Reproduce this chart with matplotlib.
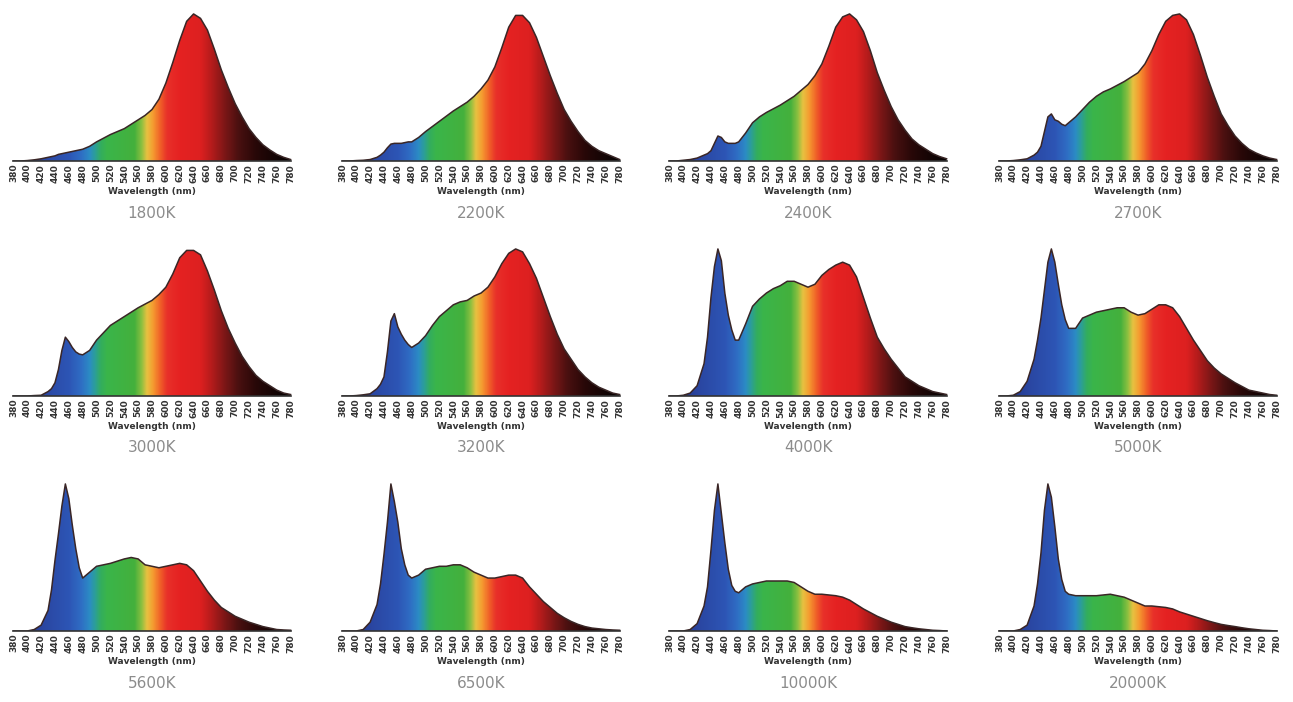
import matplotlib
matplotlib.use('Agg')
import matplotlib.pyplot as plt
import numpy as np
from matplotlib.colors import LinearSegmentedColormap
from matplotlib.patches import Polygon

# Data

wavelengths = [380, 390, 400, 410, 420, 430, 435, 440, 445, 450, 455, 460, 465, 470, 475, 480,
               490, 500, 510, 520, 530, 540, 550, 560, 570, 580, 590, 600, 610, 620, 630, 640,
               650, 660, 670, 680, 690, 700, 710, 720, 730, 740, 750, 760, 770, 780]

cct_names = ['1800K', '2200K', '2400K', '2700K',
             '3000K', '3200K', '4000K', '5000K',
             '5600K', '6500K', '10000K', '20000K']

spd_1800 = [0, 0, 0.003, 0.008, 0.015, 0.025, 0.03, 0.035, 0.045, 0.05, 0.055, 0.06, 0.065, 0.07, 0.075, 0.08,
            0.1, 0.13, 0.155, 0.18, 0.2, 0.22, 0.25, 0.28, 0.31, 0.35, 0.42, 0.53, 0.67, 0.82, 0.95, 1.0,
            0.97, 0.89, 0.76, 0.62, 0.5, 0.39, 0.3, 0.22, 0.16, 0.11, 0.075, 0.045, 0.025, 0.01]
spd_2200 = [0, 0, 0.003, 0.005, 0.01, 0.025, 0.04, 0.06, 0.09, 0.115, 0.12, 0.12, 0.12, 0.125, 0.13, 0.13,
            0.16, 0.2, 0.235, 0.27, 0.305, 0.34, 0.37, 0.4, 0.44, 0.49, 0.55, 0.64, 0.77, 0.91, 0.99, 0.99,
            0.94, 0.84, 0.71, 0.58, 0.46, 0.35, 0.27, 0.2, 0.14, 0.1, 0.07, 0.05, 0.03, 0.01]
spd_2400 = [0, 0, 0.005, 0.01, 0.02, 0.04, 0.05, 0.07, 0.12, 0.17, 0.16, 0.13, 0.12, 0.12, 0.12, 0.13,
            0.19, 0.26, 0.3, 0.33, 0.355, 0.38, 0.41, 0.44, 0.48, 0.52, 0.58, 0.66, 0.78, 0.91, 0.98, 1.0,
            0.96, 0.88, 0.75, 0.6, 0.48, 0.37, 0.28, 0.21, 0.15, 0.11, 0.08, 0.05, 0.03, 0.015]
spd_2700 = [0, 0, 0.003, 0.008, 0.015, 0.04, 0.06, 0.1, 0.2, 0.3, 0.32, 0.28, 0.27, 0.25, 0.24, 0.26,
            0.3, 0.35, 0.4, 0.44, 0.47, 0.49, 0.515, 0.54, 0.57, 0.6, 0.66, 0.75, 0.86, 0.95, 0.99, 1.0,
            0.96, 0.86, 0.72, 0.57, 0.44, 0.32, 0.24, 0.17, 0.12, 0.08, 0.055, 0.035, 0.02, 0.01]
spd_3000 = [0, 0, 0, 0.003, 0.005, 0.03, 0.05, 0.09, 0.18, 0.31, 0.4, 0.37, 0.33, 0.3, 0.285, 0.28,
            0.31, 0.38, 0.43, 0.48, 0.51, 0.54, 0.57, 0.6, 0.625, 0.65, 0.69, 0.74, 0.83, 0.94, 0.99, 0.99,
            0.96, 0.85, 0.72, 0.58, 0.46, 0.36, 0.27, 0.2, 0.14, 0.1, 0.07, 0.04, 0.02, 0.01]
spd_3200 = [0, 0, 0.003, 0.008, 0.015, 0.05, 0.08, 0.13, 0.3, 0.51, 0.56, 0.47, 0.42, 0.38, 0.35, 0.33,
            0.36, 0.41, 0.48, 0.54, 0.58, 0.62, 0.64, 0.65, 0.68, 0.7, 0.74, 0.81, 0.9, 0.97, 1.0, 0.98,
            0.9, 0.8, 0.67, 0.54, 0.42, 0.32, 0.25, 0.18, 0.13, 0.09, 0.06, 0.04, 0.02, 0.01]
spd_4000 = [0, 0, 0.005, 0.02, 0.07, 0.22, 0.4, 0.67, 0.88, 1.0, 0.92, 0.7, 0.55, 0.45, 0.38, 0.38,
            0.49, 0.61, 0.66, 0.7, 0.73, 0.75, 0.78, 0.78, 0.76, 0.74, 0.76, 0.82, 0.86, 0.89, 0.91, 0.89,
            0.81, 0.67, 0.53, 0.4, 0.32, 0.25, 0.19, 0.13, 0.1, 0.07, 0.05, 0.03, 0.02, 0.01]
spd_5000 = [0, 0, 0.005, 0.03, 0.1, 0.25, 0.38, 0.53, 0.72, 0.91, 1.0, 0.91, 0.76, 0.62, 0.52, 0.46,
            0.46, 0.53, 0.55, 0.57, 0.58, 0.59, 0.6, 0.6, 0.57, 0.55, 0.56, 0.59, 0.62, 0.62, 0.6, 0.54,
            0.46, 0.38, 0.31, 0.24, 0.19, 0.15, 0.12, 0.09, 0.065, 0.04, 0.03, 0.02, 0.01, 0.005]
spd_5600 = [0, 0, 0, 0.01, 0.04, 0.14, 0.28, 0.48, 0.66, 0.85, 1.0, 0.9, 0.72, 0.56, 0.43, 0.36,
            0.4, 0.44, 0.45, 0.46, 0.475, 0.49, 0.5, 0.49, 0.45, 0.44, 0.43, 0.44, 0.45, 0.46, 0.45, 0.41,
            0.34, 0.27, 0.21, 0.16, 0.13, 0.1, 0.08, 0.06, 0.045, 0.03, 0.02, 0.01, 0.007, 0.005]
spd_6500 = [0, 0, 0, 0.01, 0.06, 0.18, 0.32, 0.52, 0.74, 1.0, 0.88, 0.74, 0.56, 0.45, 0.38, 0.36,
            0.38, 0.42, 0.43, 0.44, 0.44, 0.45, 0.45, 0.43, 0.4, 0.38, 0.36, 0.36, 0.37, 0.38, 0.38, 0.36,
            0.3, 0.25, 0.2, 0.16, 0.12, 0.09, 0.065, 0.045, 0.03, 0.02, 0.015, 0.01, 0.007, 0.005]
spd_10000 = [0, 0, 0, 0.01, 0.05, 0.17, 0.3, 0.55, 0.82, 1.0, 0.8, 0.6, 0.42, 0.31, 0.27, 0.26,
             0.3, 0.32, 0.33, 0.34, 0.34, 0.34, 0.34, 0.33, 0.3, 0.27, 0.25, 0.25, 0.245, 0.24, 0.23, 0.21,
             0.18, 0.15, 0.125, 0.1, 0.08, 0.06, 0.045, 0.03, 0.022, 0.015, 0.01, 0.005, 0.003, 0]
spd_20000 = [0, 0, 0, 0.01, 0.04, 0.17, 0.32, 0.53, 0.82, 1.0, 0.91, 0.71, 0.49, 0.35, 0.27, 0.25,
             0.24, 0.24, 0.24, 0.24, 0.245, 0.25, 0.24, 0.23, 0.21, 0.19, 0.17, 0.17, 0.165, 0.16, 0.15, 0.13,
             0.115, 0.1, 0.085, 0.07, 0.057, 0.045, 0.037, 0.03, 0.022, 0.015, 0.01, 0.005, 0.003, 0]

spectra = [spd_1800, spd_2200, spd_2400, spd_2700,
           spd_3000, spd_3200, spd_4000, spd_5000,
           spd_5600, spd_6500, spd_10000, spd_20000]

tick_wl = list(range(380, 781, 20))

# Spectrum colours (wavelength -> colour) for the gradient fill
spec_stops = [(380, '#1c2f78'), (420, '#2a45a0'), (460, '#2d55b5'), (478, '#2f6ec4'),
              (490, '#2b8cc4'), (498, '#2c9f96'), (506, '#33ad5e'), (515, '#3ab54a'),
              (555, '#44b03c'), (565, '#8cc040'), (573, '#e8c040'), (582, '#f59a30'),
              (592, '#f06028'), (602, '#e8302a'), (620, '#e52222'), (650, '#dd2020'),
              (665, '#b81c1c'), (685, '#7d1717'), (705, '#4a1010'), (730, '#280808'),
              (760, '#120404'), (780, '#050202')]
spec_cmap = LinearSegmentedColormap.from_list(
    'spectrum', [((w - 380) / 400, c) for w, c in spec_stops])

# Layout in pixels
W, H = 1293, 702
col_left = [12, 341, 668, 998]
row_base = [161, 396, 631]
plot_w, plot_h = 280, 150

fig = plt.figure(figsize=(W / 100, H / 100), dpi=100)
fig.patch.set_facecolor('white')

grad = np.linspace(380, 780, 800).reshape(1, -1)

for i in range(len(spectra)):
    r, c = divmod(i, 4)
    ax = fig.add_axes([col_left[c] / W, 1 - row_base[r] / H, plot_w / W, plot_h / H])
    ax.set_xlim(378, 782)
    ax.set_ylim(0, 1.02)

    # gradient clipped to the spectrum shape
    verts = [(wavelengths[0], 0)] + list(zip(wavelengths, spectra[i])) + [(wavelengths[-1], 0)]
    shape = Polygon(verts, closed=True, facecolor='none', edgecolor='none')
    ax.add_patch(shape)
    im = ax.imshow(grad, extent=[380, 780, 0, 1.02], aspect='auto', cmap=spec_cmap,
                   vmin=380, vmax=780, origin='lower', interpolation='bilinear')
    im.set_clip_path(shape)

    ax.plot(wavelengths, spectra[i], color='#3a2626', lw=1.1)
    ax.plot([380, 780], [0, 0], color='#333333', lw=1.2, clip_on=False)

    ax.set_xticks(tick_wl)
    ax.set_xticklabels([str(t) for t in tick_wl], rotation=90, fontsize=6.5,
                       fontweight='bold', color='#333333')
    ax.tick_params(axis='x', length=0, pad=2)
    ax.set_yticks([])
    for s in ax.spines.values():
        s.set_visible(False)
    ax.set_xlabel('Wavelength (nm)', fontsize=6.5, fontweight='bold', color='#333333', labelpad=3)

    fig.text((col_left[c] + plot_w / 2) / W, 1 - (row_base[r] + 52) / H, cct_names[i],
             ha='center', va='center', fontsize=11, color='#8c8c8c')

fig.savefig('out.png', dpi=100, facecolor='white')
